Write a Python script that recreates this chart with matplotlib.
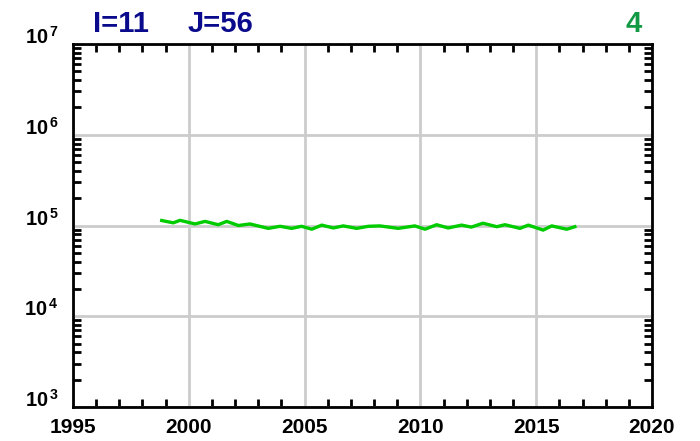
import numpy as np
import matplotlib
matplotlib.use("Agg")
import matplotlib.pyplot as plt
from matplotlib.ticker import FixedLocator, LogLocator, NullFormatter

plt.rcParams['font.family'] = ['Liberation Sans', 'DejaVu Sans']
plt.rcParams['mathtext.fontset'] = 'custom'
plt.rcParams['mathtext.rm'] = 'Liberation Sans:bold'
plt.rcParams['mathtext.bf'] = 'Liberation Sans:bold'

# series (peaks / troughs)
years = [1998.83, 1999.33, 1999.62, 2000.27, 2000.70, 2001.27, 2001.64, 2002.14,
         2002.64, 2003.43, 2003.94, 2004.44, 2004.87, 2005.31, 2005.74, 2006.24,
         2006.67, 2007.25, 2007.75, 2008.25, 2009.04, 2009.76, 2010.20, 2010.70,
         2011.20, 2011.78, 2012.20, 2012.70, 2013.30, 2013.65, 2014.30, 2014.66,
         2015.30, 2015.67, 2016.32, 2016.67]
values = [1.135e5, 1.07e5, 1.14e5, 1.04e5, 1.11e5, 1.02e5, 1.11e5, 1.0e5,
          1.04e5, 9.3e4, 9.8e4, 9.3e4, 9.8e4, 9.1e4, 1.01e5, 9.4e4,
          9.9e4, 9.3e4, 9.8e4, 9.9e4, 9.3e4, 9.9e4, 9.1e4, 1.02e5,
          9.4e4, 1.01e5, 9.6e4, 1.06e5, 9.7e4, 1.02e5, 9.3e4, 1.01e5,
          8.9e4, 9.9e4, 9.1e4, 9.7e4]

xticks = [1995, 2000, 2005, 2010, 2015, 2020]
yticks = [1e3, 1e4, 1e5, 1e6, 1e7]
ylabels = [r'$\mathrm{10^{\,3}}$', r'$\mathrm{10^{\,4}}$', r'$\mathrm{10^{\,5}}$',
           r'$\mathrm{10^{\,6}}$', r'$\mathrm{10^{\,7}}$']

fig = plt.figure(figsize=(7, 4.41), dpi=100)
ax = fig.add_axes([0.1043, 0.0771, 0.8271, 0.8231])

ax.plot(years, values, color='#00cc00', lw=2.4, zorder=3, solid_joinstyle='round')

ax.set_yscale('log')
ax.set_xlim(1995, 2020)
ax.set_ylim(1e3, 1e7)

ax.set_xticks(xticks)
ax.set_xticklabels([str(x) for x in xticks], fontsize=15, fontweight='bold')
ax.xaxis.set_minor_locator(FixedLocator(np.arange(1995, 2021, 1)))
ax.set_yticks(yticks)
ax.set_yticklabels(ylabels, fontsize=14.5)
for lab in ax.get_yticklabels():
    lab.set_va('baseline')
ax.yaxis.set_minor_locator(LogLocator(base=10, subs=np.arange(2, 10)))
ax.yaxis.set_minor_formatter(NullFormatter())

ax.grid(True, which='major', color='#cccccc', lw=2)
ax.set_axisbelow(True)
ax.tick_params(which='both', direction='in', top=True, right=True, width=2, color='black')
ax.tick_params(which='major', length=0)
ax.tick_params(axis='x', which='major', pad=8)
ax.tick_params(axis='y', which='major', pad=10)
ax.tick_params(axis='x', which='minor', length=6)
ax.tick_params(axis='y', which='minor', length=6)
for s in ax.spines.values():
    s.set_linewidth(2)

fig.text(93 / 700, 1 - 32 / 441, 'I=11', color='#0a0a8c', fontsize=21, fontweight='bold')
fig.text(188 / 700, 1 - 32 / 441, 'J=56', color='#0a0a8c', fontsize=21, fontweight='bold')
fig.text(642 / 700, 1 - 32 / 441, '4', color='#119944', fontsize=21, fontweight='bold', ha='right')

fig.savefig('out.png', dpi=100)
